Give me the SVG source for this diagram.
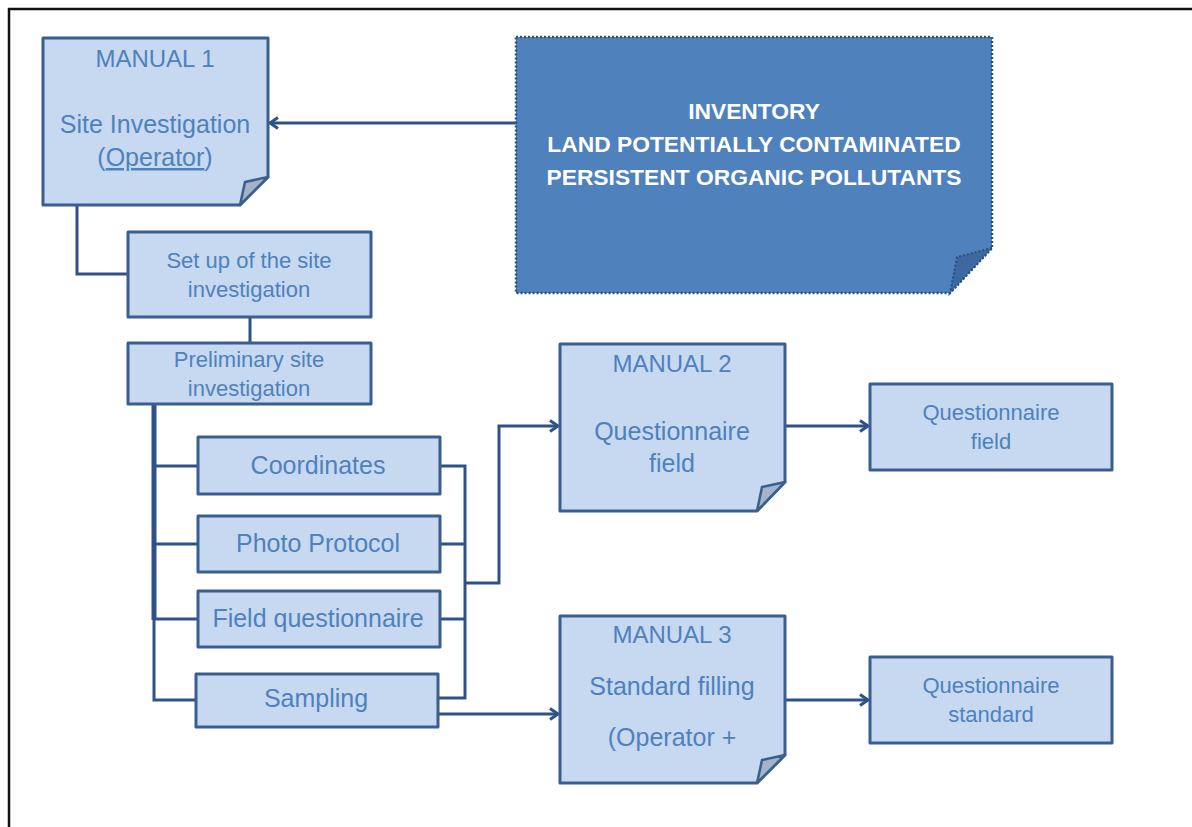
<svg xmlns="http://www.w3.org/2000/svg" width="1192" height="827" viewBox="0 0 1192 827">
<style>
.box{fill:#c6d9f1;stroke:#3a5f8f;stroke-width:3;stroke-linejoin:round}
.fold{fill:#a3b3c9;stroke:#3a5f8f;stroke-width:2.5;stroke-linejoin:round}
.t{font-family:"Liberation Sans",Arial,sans-serif;fill:#4f81bd;text-anchor:middle}
.s22{font-size:22px}
.s25{font-size:25px}
.s24{font-size:24px}
.inv{font-family:"Liberation Sans",Arial,sans-serif;font-weight:bold;font-size:22.8px;fill:#ffffff;text-anchor:middle}
.c{fill:none;stroke:#2e5288;stroke-width:3;stroke-linejoin:miter}
</style>
<defs>
<marker id="arr" markerWidth="14" markerHeight="14" refX="11" refY="7" orient="auto" markerUnits="userSpaceOnUse">
<path d="M3,1.5 L11,7 L3,12.5" fill="none" stroke="#2e5288" stroke-width="3"/>
</marker>
</defs>
<rect width="1192" height="827" fill="#ffffff"/>
<path d="M9,827 V9 H1192" fill="none" stroke="#111" stroke-width="2.5"/>

<g id="connectors">
<path class="c" d="M516,123 H270" marker-end="url(#arr)"/>
<path class="c" d="M77,206 V274 H128"/>
<path class="c" d="M250,317 V343"/>
<path class="c" d="M154,404 V620" style="stroke-width:5"/>
<path class="c" d="M154,618 V700 H196"/>
<path class="c" d="M154,466 H198"/>
<path class="c" d="M154,544 H198"/>
<path class="c" d="M154,619 H198"/>
<path class="c" d="M440,466 H465 V698 H438"/>
<path class="c" d="M440,544 H465"/>
<path class="c" d="M440,619 H465"/>
<path class="c" d="M465,583 H499 V426 H558" marker-end="url(#arr)"/>
<path class="c" d="M438,714 H558" marker-end="url(#arr)"/>
<path class="c" d="M785,426 H868" marker-end="url(#arr)"/>
<path class="c" d="M785,700 H868" marker-end="url(#arr)"/>
</g>

<g id="manual1">
<path class="box" d="M43,38 H268 V177 L240,205 H43 Z"/>
<path class="fold" d="M268,177 L245,182 L240,205 Z"/>
<text class="t s24" x="155" y="67">MANUAL 1</text>
<text class="t s25" x="155" y="133">Site Investigation</text>
<text class="t s25" x="155" y="166">(<tspan text-decoration="underline">Operator</tspan>)</text>
</g>

<g id="inventory">
<path d="M516,37 H992 V248 L950,293 H516 Z" fill="#4f81bd" stroke="#2c4f7c" stroke-width="2.5" stroke-dasharray="2,2"/>
<path d="M992,248 L957,257 L950,293 Z" fill="#3d69a0" stroke="#2c4f7c" stroke-width="2" stroke-dasharray="2,2"/>
<text class="inv" x="754" y="119">INVENTORY</text>
<text class="inv" x="754" y="152">LAND POTENTIALLY CONTAMINATED</text>
<text class="inv" x="754" y="185">PERSISTENT ORGANIC POLLUTANTS</text>
</g>

<g id="setup">
<rect class="box" x="128" y="232" width="243" height="85"/>
<text class="t s22" x="249" y="268">Set up of the site</text>
<text class="t s22" x="249" y="297">investigation</text>
</g>

<g id="preliminary">
<rect class="box" x="128" y="343" width="243" height="61"/>
<text class="t s22" x="249" y="367">Preliminary site</text>
<text class="t s22" x="249" y="396">investigation</text>
</g>

<g id="coordinates">
<rect class="box" x="198" y="437" width="242" height="57"/>
<text class="t s25" x="318" y="474">Coordinates</text>
</g>

<g id="photo">
<rect class="box" x="198" y="516" width="242" height="56"/>
<text class="t s25" x="318" y="552">Photo Protocol</text>
</g>

<g id="fieldq">
<rect class="box" x="198" y="591" width="242" height="56"/>
<text class="t s25" x="318" y="627">Field questionnaire</text>
</g>

<g id="sampling">
<rect class="box" x="196" y="674" width="242" height="53"/>
<text class="t s25" x="316" y="707">Sampling</text>
</g>

<g id="manual2">
<path class="box" d="M560,344 H785 V482 L757,511 H560 Z"/>
<path class="fold" d="M785,482 L762,487 L757,511 Z"/>
<text class="t s24" x="672" y="372">MANUAL 2</text>
<text class="t s25" x="672" y="440">Questionnaire</text>
<text class="t s25" x="672" y="472">field</text>
</g>

<g id="qfield">
<rect class="box" x="870" y="384" width="242" height="86"/>
<text class="t s22" x="991" y="420">Questionnaire</text>
<text class="t s22" x="991" y="449">field</text>
</g>

<g id="manual3">
<path class="box" d="M560,616 H785 V755 L757,783 H560 Z"/>
<path class="fold" d="M785,755 L762,760 L757,783 Z"/>
<text class="t s24" x="672" y="643">MANUAL 3</text>
<text class="t s25" x="672" y="695">Standard filling</text>
<text class="t s25" x="672" y="746">(Operator +</text>
</g>

<g id="qstandard">
<rect class="box" x="870" y="657" width="242" height="86"/>
<text class="t s22" x="991" y="693">Questionnaire</text>
<text class="t s22" x="991" y="722">standard</text>
</g>
</svg>
